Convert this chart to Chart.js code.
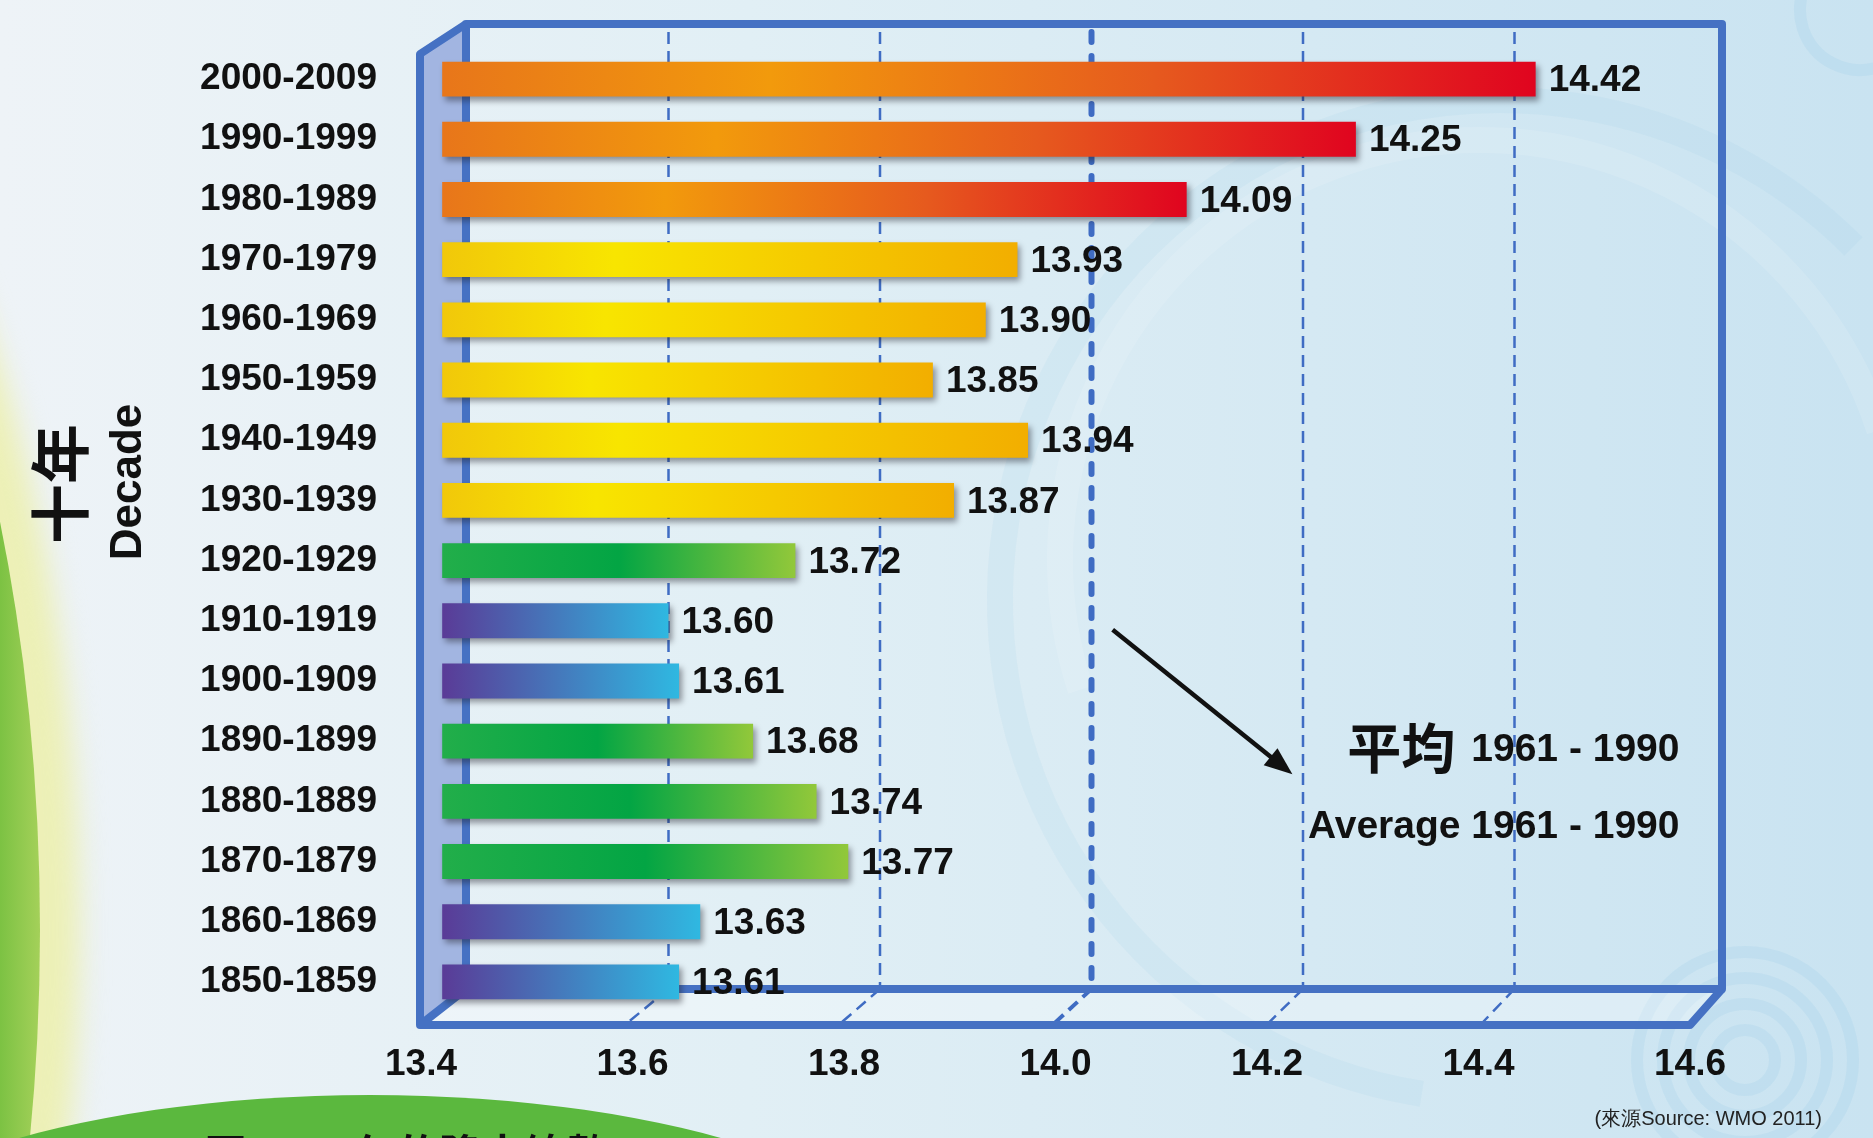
<!DOCTYPE html>
<html>
<head>
<meta charset="utf-8">
<script src="https://cdn.jsdelivr.net/npm/chart.js@4.4.1/dist/chart.umd.min.js"></script>
<style>
html, body { margin: 0; padding: 0; background: #E4F0F6; }
#wrap { width: 1873px; height: 1138px; }
</style>
</head>
<body>
<div id="wrap"><canvas id="tempChart" width="1873" height="1138"></canvas></div>
<script>
// decadal global mean temperature (°C), newest decade first
const decades = ['2000-2009', '1990-1999', '1980-1989', '1970-1979', '1960-1969', '1950-1959',
  '1940-1949', '1930-1939', '1920-1929', '1910-1919', '1900-1909', '1890-1899',
  '1880-1889', '1870-1879', '1860-1869', '1850-1859'];
const meanTemps = [14.42, 14.25, 14.09, 13.93, 13.90, 13.85, 13.94, 13.87, 13.72, 13.60,
  13.61, 13.68, 13.74, 13.77, 13.63, 13.61];
const xTickValues = [13.4, 13.6, 13.8, 14.0, 14.2, 14.4, 14.6];
const averageTemp = 14.0;
const averageLabel = '1961 - 1990';

const FONT = '"Liberation Sans", Arial, sans-serif';
const CJK = '"Noto Sans CJK TC", "Noto Sans CJK SC", sans-serif';
Chart.defaults.font.family = FONT;

// colour band depends on how warm the decade was
function gradientStops(v) {
  if (v >= 14.0) return [[0, '#E8761A'], [0.3, '#F29A0C'], [0.65, '#E65A1E'], [1, '#E0041F']];
  if (v >= 13.8) return [[0, '#F1C80A'], [0.3, '#F8E500'], [1, '#F2AE00']];
  if (v >= 13.65) return [[0, '#22AE4A'], [0.5, '#03A544'], [1, '#92C83A']];
  return [[0, '#5A3B97'], [1, '#2FB8E1']];
}

const BAR_BASE = 13.386;

function boxGeom(chart) {
  const a = chart.chartArea;
  const L = a.left + 9, R = a.right - 4, T = a.top - 25, B = a.bottom - 23;
  // front edge of the box sits a little left and below the back plane
  const depth = (x, y) => [x - 46 + 14 * (x - L) / (R - L), y + 30 + 6 * (y - T) / (B - T)];
  return { L, R, T, B, depth };
}

function ellipse(c, cx, cy, rx, ry) {
  c.beginPath();
  c.ellipse(cx, cy, rx, ry, 0, 0, Math.PI * 2);
}

const decor = {
  id: 'decor',
  beforeDraw(chart) {
    const c = chart.ctx, w = chart.width, h = chart.height;
    c.save();
    const bg = c.createLinearGradient(0, 0, w, 0);
    bg.addColorStop(0, '#EEF3F7');
    bg.addColorStop(0.4, '#E1EFF5');
    bg.addColorStop(1, '#C9E3F1');
    c.fillStyle = bg;
    c.fillRect(0, 0, w, h);

    // faint swirls
    c.lineWidth = 26;
    c.strokeStyle = 'rgba(255,255,255,0.12)';
    c.beginPath(); c.arc(1480, 560, 420, Math.PI * 0.9, Math.PI * 1.9); c.stroke();
    c.strokeStyle = 'rgba(140,195,230,0.10)';
    c.beginPath(); c.arc(1500, 600, 500, Math.PI * 0.55, Math.PI * 1.75); c.stroke();
    c.lineWidth = 12;
    c.strokeStyle = 'rgba(130,190,230,0.14)';
    for (let r = 30; r <= 110; r += 26) {
      c.beginPath(); c.arc(1745, 1060, r, 0, Math.PI * 2); c.stroke();
    }
    c.beginPath(); c.arc(1860, 10, 60, Math.PI * 0.4, Math.PI * 1.1); c.stroke();

    // green crescent on the left edge
    c.filter = 'blur(14px)';
    c.fillStyle = 'rgba(236,240,175,0.9)';
    ellipse(c, -520, 930, 600, 1130); c.fill();
    c.filter = 'none';
    const gl = c.createLinearGradient(0, 0, 45, 0);
    gl.addColorStop(0, '#7CC243');
    gl.addColorStop(1, '#A9D25C');
    c.fillStyle = gl;
    ellipse(c, -520, 930, 560, 1100); c.fill();

    // green mound along the bottom, its caption runs off the page
    c.fillStyle = '#5BB83E';
    ellipse(c, 370, 1290, 560, 195); c.fill();
    c.fillStyle = '#111';
    c.font = 'bold 42px ' + CJK;
    c.textBaseline = 'alphabetic';
    c.fillText('1881 至 2005年的降水總數', 96, 1170);
    c.restore();
  },
  beforeDatasetsDraw(chart) {
    const c = chart.ctx;
    const { L, R, T, B, depth } = boxGeom(chart);
    const ftl = depth(L, T), fbl = depth(L, B), fbr = depth(R, B);
    c.save();
    c.fillStyle = '#A2B5E1';
    c.beginPath(); c.moveTo(...ftl); c.lineTo(L, T); c.lineTo(L, B); c.lineTo(...fbl); c.closePath(); c.fill();
    c.fillStyle = 'rgba(255,255,255,0.3)';
    c.beginPath(); c.moveTo(...fbl); c.lineTo(L, B); c.lineTo(R, B); c.lineTo(...fbr); c.closePath(); c.fill();

    const xs = chart.scales.x;
    xTickValues.forEach(v => {
      if (v <= xs.min || v >= xs.max) return;
      const x = xs.getPixelForValue(v);
      const avg = Math.abs(v - averageTemp) < 1e-9;
      c.strokeStyle = '#3F6CC3';
      c.lineWidth = avg ? 6 : 2.5;
      c.setLineDash(avg ? [10, 14] : [12, 7]);
      c.lineCap = avg ? 'round' : 'butt';
      c.beginPath(); c.moveTo(x, T + 8); c.lineTo(x, B); c.stroke();
      const f = depth(x, B);
      c.lineWidth = avg ? 4 : 2.5;
      c.setLineDash([12, 7]);
      c.lineCap = 'butt';
      c.beginPath(); c.moveTo(x, B); c.lineTo(f[0], f[1]); c.stroke();
    });
    c.setLineDash([]);

    c.strokeStyle = '#4571C3';
    c.lineWidth = 8;
    c.lineJoin = 'round';
    c.strokeRect(L, T, R - L, B - T);
    c.beginPath();
    c.moveTo(L, T); c.lineTo(...ftl); c.lineTo(...fbl); c.lineTo(...fbr); c.lineTo(R, B);
    c.moveTo(...fbl); c.lineTo(L, B);
    c.stroke();
    c.restore();

    // soft drop shadow under the bars
    c.save();
    c.shadowColor = 'rgba(30,30,40,0.45)';
    c.shadowBlur = 6;
    c.shadowOffsetX = 3;
    c.shadowOffsetY = 4;
  },
  afterDatasetsDraw(chart) {
    const c = chart.ctx;
    c.restore();
    const meta = chart.getDatasetMeta(0);
    c.save();
    c.fillStyle = '#111';
    c.font = 'bold 37px ' + FONT;
    c.textAlign = 'left';
    c.textBaseline = 'middle';
    meta.data.forEach((bar, i) => {
      c.fillText(meanTemps[i].toFixed(2), bar.x + 13, bar.y + 2);
    });
    c.restore();
  },
  afterDraw(chart) {
    const c = chart.ctx;
    const xs = chart.scales.x, ys = chart.scales.y;
    c.save();
    c.fillStyle = '#111';

    // axis title
    c.save();
    c.translate(60, 484);
    c.rotate(-Math.PI / 2);
    c.textAlign = 'center';
    c.textBaseline = 'middle';
    c.font = 'bold 60px ' + CJK;
    c.fillText('十年', 0, 0);
    c.restore();
    c.save();
    c.translate(129, 482);
    c.rotate(-Math.PI / 2);
    c.textAlign = 'center';
    c.textBaseline = 'middle';
    c.font = 'bold 44px ' + FONT;
    c.fillText('Decade', 0, 0);
    c.restore();

    // arrow pointing at the 1961-1990 average line
    const x0 = xs.getPixelForValue(14.02), y0 = ys.getPixelForValue(9.15);
    const x1 = xs.getPixelForValue(14.19), y1 = ys.getPixelForValue(11.55);
    const ang = Math.atan2(y1 - y0, x1 - x0);
    c.strokeStyle = '#111';
    c.lineWidth = 4.5;
    c.beginPath();
    c.moveTo(x0, y0);
    c.lineTo(x1 - 20 * Math.cos(ang), y1 - 20 * Math.sin(ang));
    c.stroke();
    c.beginPath();
    c.moveTo(x1, y1);
    c.lineTo(x1 - 28 * Math.cos(ang) + 11 * Math.sin(ang), y1 - 28 * Math.sin(ang) - 11 * Math.cos(ang));
    c.lineTo(x1 - 28 * Math.cos(ang) - 11 * Math.sin(ang), y1 - 28 * Math.sin(ang) + 11 * Math.cos(ang));
    c.closePath();
    c.fill();

    const right = xs.getPixelForValue(14.556);
    c.textAlign = 'right';
    c.textBaseline = 'middle';
    c.font = 'bold 39px ' + FONT;
    const yA = ys.getPixelForValue(11.15);
    c.fillText(averageLabel, right, yA);
    const wA = c.measureText(averageLabel).width;
    c.font = 'bold 54px ' + CJK;
    c.fillText('平均', right - wA - 16, yA - 2);
    c.font = 'bold 39px ' + FONT;
    c.fillText('Average ' + averageLabel, right, ys.getPixelForValue(12.43));

    c.font = '20px ' + FONT;
    c.fillStyle = '#222';
    c.fillText('(來源Source: WMO 2011)', 1822, 1119);
    c.restore();
  }
};

new Chart(document.getElementById('tempChart'), {
  type: 'bar',
  data: {
    labels: decades,
    datasets: [{
      data: meanTemps,
      base: BAR_BASE,
      clip: false,
      backgroundColor(ctx) {
        const chart = ctx.chart;
        if (!chart.chartArea) return '#F2B000';
        const v = ctx.raw;
        const xs = chart.scales.x;
        const g = chart.ctx.createLinearGradient(xs.getPixelForValue(BAR_BASE), 0, xs.getPixelForValue(v), 0);
        gradientStops(v).forEach(([o, col]) => g.addColorStop(o, col));
        return g;
      },
      borderWidth: 0,
      categoryPercentage: 1,
      barPercentage: 0.58
    }]
  },
  options: {
    indexAxis: 'y',
    responsive: false,
    animation: false,
    layout: { padding: { top: 49, right: 147, bottom: 0, left: 0 } },
    plugins: { legend: { display: false }, tooltip: { enabled: false } },
    scales: {
      x: {
        min: 13.4,
        max: 14.6,
        afterBuildTicks(scale) { scale.ticks = xTickValues.map(v => ({ value: v })); },
        afterFit(scale) {
          scale.height = 126;
          scale.paddingLeft = 0;
          scale.paddingRight = 0;
        },
        grid: { display: false },
        border: { display: false },
        ticks: {
          color: '#111',
          font: { size: 37, weight: 'bold' },
          padding: 23,
          labelOffset: -36,
          maxRotation: 0,
          autoSkip: false,
          callback: v => Number(v).toFixed(1)
        }
      },
      y: {
        afterFit(scale) {
          scale.width = 457;
          scale.paddingTop = 0;
          scale.paddingBottom = 0;
        },
        grid: { display: false, drawTicks: false },
        border: { display: false },
        ticks: { color: '#111', font: { size: 37, weight: 'bold' }, padding: 80, autoSkip: false }
      }
    }
  },
  plugins: [decor]
});
</script>
</body>
</html>
